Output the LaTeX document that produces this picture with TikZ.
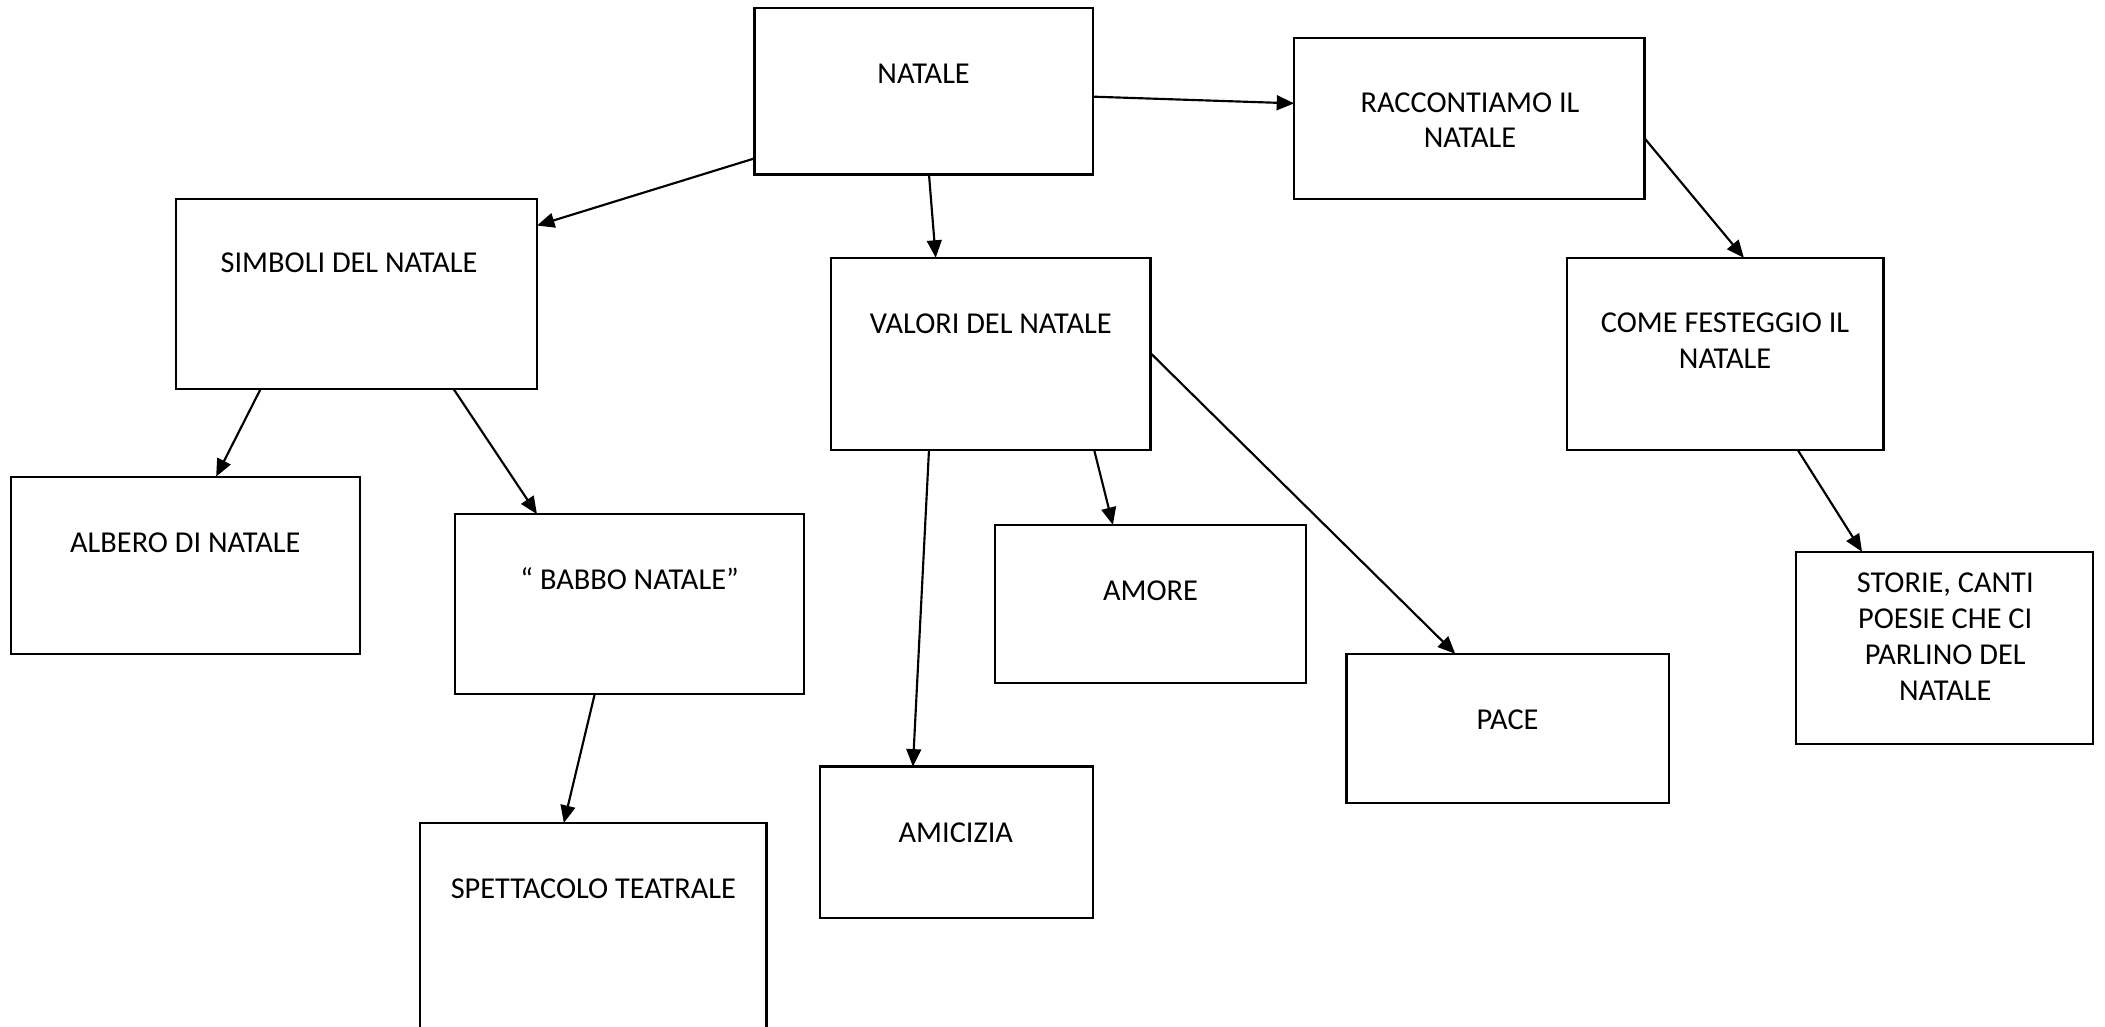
\documentclass[tikz,border=0pt]{standalone}
\usepackage{fontspec}
\setmainfont{Carlito}
\usetikzlibrary{calc,arrows.meta}
\tikzset{
  bx/.style={draw=black, line width=0.8pt, rectangle, inner sep=0pt, outer sep=0pt, fill=white},
  lbl/.style={font=\fontsize{11.3pt}{13.4pt}\selectfont, align=center, inner sep=0pt, anchor=center},
  arr/.style={draw=black, line width=0.8pt, -{Triangle[length=6.5pt,width=5.5pt]}}
}
\newcommand{\mybox}[5]{\node[bx, minimum width={(#4-#2)*0.5pt}, minimum height={(#5-#3)*0.5pt}] (#1) at ({(#2+#4)/2},{(#3+#5)/2}) {};}
\begin{document}
\begin{tikzpicture}[x=0.5pt, y=-0.5pt]
\clip (0,0) rectangle (1568,765);
\fill[white] (0,0) rectangle (1568,765);
% boxes
\mybox{natale}{562}{6}{814}{130}
\mybox{racc}{964}{28}{1225}{148}
\mybox{simboli}{131}{148}{400}{290}
\mybox{valori}{619}{192}{857}{335}
\mybox{come}{1167}{192}{1403}{335}
\mybox{albero}{8}{355}{268}{487}
\mybox{babbo}{339}{383}{599}{517}
\mybox{amore}{741}{391}{973}{509}
\mybox{pace}{1003}{487}{1243}{598}
\mybox{storie}{1338}{411}{1559}{554}
\mybox{spett}{313}{613}{571}{800}
\mybox{amicizia}{611}{571}{814}{684}
% texts
\node[lbl] (tnatale) at (688,55) {NATALE};
\node[lbl] (tracc) at (1095,89.5) {RACCONTIAMO IL\\NATALE};
\node[lbl] (tsimboli) at (260,196) {SIMBOLI DEL NATALE};
\node[lbl] (tvalori) at (738,241) {VALORI DEL NATALE};
\node[lbl] (tcome) at (1285,254) {COME FESTEGGIO IL\\NATALE};
\node[lbl] (talbero) at (138,404) {ALBERO DI NATALE};
\node[lbl] (tbabbo) at (469,431) {“ BABBO NATALE”};
\node[lbl] (tamore) at (857,440) {AMORE};
\node[lbl] (tpace) at (1123,536) {PACE};
\node[lbl] (tstorie) at (1449,474) {STORIE, CANTI\\POESIE CHE CI\\PARLINO DEL\\NATALE};
\node[lbl] (tspett) at (442,662) {SPETTACOLO TEATRALE};
\node[lbl] (tamicizia) at (712,620) {AMICIZIA};
% connectors
\draw[arr] ($(natale.north west)+(0,112)$) -- ($(simboli.north east)+(0,20)$);
\draw[arr] ($(natale.south west)+(130,0)$) -- ($(valori.north west)+(78,0)$);
\draw[arr] ($(natale.north east)+(0,66)$) -- ($(racc.north west)+(0,49)$);
\draw[arr] ($(racc.north east)+(0,75)$) -- ($(come.north west)+(132,0)$);
\draw[arr] ($(simboli.south west)+(63,0)$) -- ($(albero.north west)+(153,0)$);
\draw[arr] ($(simboli.south west)+(207,0)$) -- ($(babbo.north west)+(61,0)$);
\draw[arr] ($(babbo.south west)+(104,0)$) -- ($(spett.north west)+(107,0)$);
\draw[arr] ($(valori.south west)+(73,0)$) -- ($(amicizia.north west)+(69,0)$);
\draw[arr] ($(valori.south west)+(196,0)$) -- ($(amore.north west)+(88,0)$);
\draw[arr] ($(valori.north east)+(0,71)$) -- ($(pace.north west)+(81,0)$);
\draw[arr] ($(come.south west)+(172,0)$) -- ($(storie.north west)+(49,0)$);
\end{tikzpicture}
\end{document}
